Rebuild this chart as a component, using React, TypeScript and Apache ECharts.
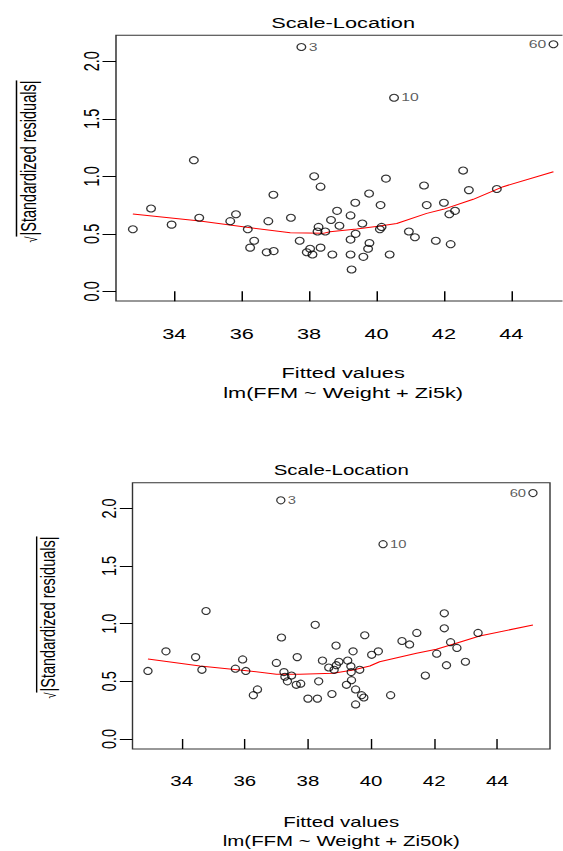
import React, { useEffect, useRef } from "react";
import * as echarts from "echarts";

const FONT = "'Liberation Sans', Arial, Helvetica, sans-serif";

// ---- shared axis ticks ----
const xTickValues = [34, 36, 38, 40, 42, 44];
const yTickValues = [0, 0.5, 1.0, 1.5, 2.0];

// ---- Panel 1: lm(FFM ~ Weight + Zi5k) ----
const fitted5k = [
  32.77, 33.31, 33.92, 34.58, 34.74, 35.66, 35.83, 36.18, 36.37, 36.25,
  36.94, 36.79, 36.74, 36.95, 37.46, 37.72, 38.15, 38.34, 38.28, 38.25,
  38.48, 38.03, 37.93, 38.1, 38.34, 38.69, 38.65, 38.83, 38.9, 39.23,
  39.23, 39.23, 39.26, 39.37, 39.38, 39.58, 39.61, 39.75, 39.79, 39.78,
  40.12, 40.1, 40.15, 40.28, 40.39, 40.96, 41.14, 41.41, 41.49, 41.76,
  42.0, 42.16, 42.33, 42.2, 42.57, 42.74, 43.57,
];
const sqrtRes5k = [
  0.54, 0.72, 0.58, 1.14, 0.64, 0.61, 0.67, 0.54, 0.44, 0.38,
  0.84, 0.61, 0.34, 0.35, 0.64, 0.44, 1.0, 0.91, 0.56, 0.52,
  0.52, 0.37, 0.34, 0.32, 0.38, 0.32, 0.62, 0.7, 0.57, 0.66,
  0.45, 0.32, 0.19, 0.77, 0.5, 0.59, 0.3, 0.37, 0.42, 0.85,
  0.75, 0.54, 0.56, 0.98, 0.32, 0.52, 0.47, 0.92, 0.75, 0.44,
  0.77, 0.67, 0.7, 0.41, 1.05, 0.88, 0.89,
];
const outlierIds5k = ["3", "10", "60"];
const outlierFitted5k = [37.77, 40.52, 45.25];
const outlierRes5k = [2.124, 1.683, 2.148];
const loessX5k = [32.77, 34.76, 36.15, 37.44, 38.42, 38.62, 39.41, 40.1, 40.6, 41.49, 41.98, 42.87, 43.76, 45.25];
const loessY5k = [0.672, 0.611, 0.557, 0.51, 0.504, 0.518, 0.542, 0.568, 0.59, 0.678, 0.713, 0.8, 0.91, 1.04];

// ---- Panel 2: lm(FFM ~ Weight + Zi50k) ----
const fitted50k = [
  32.93, 33.5, 34.44, 34.64, 34.77, 35.7, 35.93, 36.03, 36.27, 36.4,
  37.0, 37.16, 37.24, 37.27, 37.35, 37.48, 37.66, 37.63, 37.77, 38.0,
  38.23, 38.3, 38.34, 38.46, 38.66, 38.76, 38.83, 38.9, 38.98, 38.89,
  39.22, 39.26, 39.36, 39.37, 39.38, 39.43, 39.51, 39.51, 39.64, 39.7,
  39.77, 39.8, 40.02, 40.23, 40.62, 40.98, 41.22, 41.45, 41.72, 42.08,
  42.32, 42.32, 42.39, 42.52, 42.72, 42.99, 43.39,
];
const sqrtRes50k = [
  0.59, 0.76, 0.71, 0.6, 1.11, 0.61, 0.69, 0.59, 0.38, 0.43,
  0.66, 0.88, 0.58, 0.54, 0.5, 0.55, 0.71, 0.47, 0.48, 0.35,
  0.99, 0.35, 0.5, 0.68, 0.62, 0.39, 0.6, 0.64, 0.67, 0.81,
  0.47, 0.68, 0.63, 0.58, 0.51, 0.76, 0.43, 0.3, 0.6, 0.38,
  0.36, 0.9, 0.73, 0.76, 0.38, 0.85, 0.82, 0.92, 0.55, 0.74,
  1.09, 0.96, 0.64, 0.84, 0.79, 0.67, 0.92,
];
const outlierIds50k = ["3", "10", "60"];
const outlierFitted50k = [37.14, 40.38, 45.13];
const outlierRes50k = [2.07, 1.69, 2.133];
const loessX50k = [32.93, 34.58, 36.06, 37.0, 37.74, 38.8, 39.43, 39.96, 40.27, 41.44, 42.07, 42.7, 43.44, 45.13];
const loessY50k = [0.694, 0.633, 0.592, 0.561, 0.561, 0.57, 0.598, 0.633, 0.67, 0.743, 0.778, 0.83, 0.893, 0.989];

const titleText = "Scale-Location";
const xLabelText = "Fitted values";
const subCaption5k = "lm(FFM ~ Weight + Zi5k)";
const subCaption50k = "lm(FFM ~ Weight + Zi50k)";
const yLabelText = "|Standardized residuals|";

type PanelCfg = {
  fitted: number[];
  res: number[];
  ids: string[];
  oFit: number[];
  oRes: number[];
  lx: number[];
  ly: number[];
  sub: string;
  xMin: number;
  xMax: number;
  yMin: number;
  yMax: number;
  gridLeft: number;
  gridTop: number;
  gridWidth: number;
  gridHeight: number;
  titleY: number;
  xLabY: number;
  subY: number;
  yTitleX: number;
  yTitleY: number;
  fs: number;
};

function buildOption(p: PanelCfg) {
  const cx = p.gridLeft + p.gridWidth / 2;
  const maxFit = Math.max(...p.oFit);
  const half = (p.fs * 10.7) / 2;
  return {
    animation: false,
    textStyle: { fontFamily: FONT },
    grid: {
      left: p.gridLeft,
      top: p.gridTop,
      width: p.gridWidth,
      height: p.gridHeight,
      show: true,
      borderColor: "#333",
      borderWidth: 1,
      backgroundColor: "rgba(0,0,0,0)",
      containLabel: false,
      outerBoundsMode: "none",
    },
    xAxis: {
      type: "value",
      min: p.xMin,
      max: p.xMax,
      axisLine: { show: false },
      splitLine: { show: false },
      axisTick: {
        show: true,
        length: 10,
        lineStyle: { color: "#000", width: 1 },
        customValues: xTickValues,
      },
      axisLabel: {
        show: true,
        customValues: xTickValues,
        fontSize: p.fs,
        color: "#000",
        margin: 25,
        fontFamily: FONT,
      },
    },
    yAxis: {
      type: "value",
      min: p.yMin,
      max: p.yMax,
      axisLine: { show: false },
      splitLine: { show: false },
      axisTick: {
        show: true,
        length: 9,
        lineStyle: { color: "#000", width: 1 },
        customValues: yTickValues,
      },
      axisLabel: {
        show: true,
        customValues: yTickValues,
        rotate: 90,
        fontSize: p.fs,
        color: "#000",
        margin: 9,
        fontFamily: FONT,
        formatter: (v: number) => v.toFixed(1),
      },
    },
    series: [
      {
        type: "scatter",
        data: p.fitted.map((x, i) => [x, p.res[i]]),
        symbol: "circle",
        symbolSize: [5.8, 7],
        itemStyle: { color: "rgba(0,0,0,0)", borderColor: "#000", borderWidth: 1 },
        silent: true,
        z: 3,
      },
      {
        type: "scatter",
        data: p.oFit.map((x, i) => ({
          value: [x, p.oRes[i]],
          label: {
            show: true,
            formatter: p.ids[i],
            position: x === maxFit ? "left" : "right",
            distance: 1.5,
            fontSize: 10.5,
            color: "#333",
            fontFamily: FONT,
          },
        })),
        symbol: "circle",
        symbolSize: [5.8, 7],
        itemStyle: { color: "rgba(0,0,0,0)", borderColor: "#000", borderWidth: 1 },
        silent: true,
        z: 3,
      },
      {
        type: "line",
        data: p.lx.map((x, i) => [x, p.ly[i]]),
        showSymbol: false,
        symbol: "none",
        smooth: false,
        lineStyle: { color: "#ff0000", width: 1 },
        silent: true,
        z: 2,
      },
    ],
    graphic: [
      {
        type: "text",
        x: cx,
        y: p.titleY,
        style: {
          text: titleText,
          fontSize: p.fs,
          fontFamily: FONT,
          fill: "#000",
          align: "center",
          verticalAlign: "middle",
          textAlign: "center",
          textVerticalAlign: "middle",
        },
      },
      {
        type: "text",
        x: cx,
        y: p.xLabY,
        style: {
          text: xLabelText,
          fontSize: p.fs,
          fontFamily: FONT,
          fill: "#000",
          align: "center",
          verticalAlign: "middle",
          textAlign: "center",
          textVerticalAlign: "middle",
        },
      },
      {
        type: "text",
        x: cx,
        y: p.subY,
        style: {
          text: p.sub,
          fontSize: p.fs,
          fontFamily: FONT,
          fill: "#000",
          align: "center",
          verticalAlign: "middle",
          textAlign: "center",
          textVerticalAlign: "middle",
        },
      },
      {
        type: "group",
        x: p.yTitleX,
        y: p.yTitleY,
        rotation: Math.PI / 2,
        children: [
          {
            type: "text",
            x: 0,
            y: 0,
            style: {
              text: yLabelText,
              fontSize: p.fs,
              fontFamily: FONT,
              fill: "#000",
              align: "center",
              verticalAlign: "middle",
              textAlign: "center",
              textVerticalAlign: "middle",
            },
          },
          {
            type: "text",
            x: -half - 1,
            y: 2,
            style: {
              text: "√",
              fontSize: p.fs * 0.75,
              fontFamily: FONT,
              fill: "#000",
              align: "right",
              verticalAlign: "middle",
              textAlign: "right",
              textVerticalAlign: "middle",
            },
          },
          {
            type: "line",
            shape: { x1: -half - 1, y1: -8, x2: half, y2: -8 },
            style: { stroke: "#000", lineWidth: 1 },
          },
        ],
      },
    ],
  };
}

const S_TOP = 1.5;
const S_BOT = 1.41;
const TOP_W = 563 / S_TOP;
const BOT_W = 563 / S_BOT;
const TOP_H = 425;
const BOT_H = 426;

const topCfg: PanelCfg = {
  fitted: fitted5k,
  res: sqrtRes5k,
  ids: outlierIds5k,
  oFit: outlierFitted5k,
  oRes: outlierRes5k,
  lx: loessX5k,
  ly: loessY5k,
  sub: subCaption5k,
  xMin: 32.27,
  xMax: 45.75,
  yMin: -0.084,
  yMax: 2.226,
  gridLeft: 116 / S_TOP,
  gridTop: 35.3,
  gridWidth: (570.3 - 116) / S_TOP,
  gridHeight: 265.7,
  titleY: 23,
  xLabY: 373,
  subY: 393,
  yTitleX: 19,
  yTitleY: 158,
  fs: 14.5,
};

const botCfg: PanelCfg = {
  fitted: fitted50k,
  res: sqrtRes50k,
  ids: outlierIds50k,
  oFit: outlierFitted50k,
  oRes: outlierRes50k,
  lx: loessX50k,
  ly: loessY50k,
  sub: subCaption50k,
  xMin: 32.44,
  xMax: 45.67,
  yMin: -0.087,
  yMax: 2.223,
  gridLeft: 132.5 / S_BOT,
  gridTop: 482.7 - TOP_H,
  gridWidth: (550 - 132.5) / S_BOT,
  gridHeight: 266.3,
  titleY: 470 - TOP_H,
  xLabY: 822 - TOP_H,
  subY: 841 - TOP_H,
  yTitleX: 34,
  yTitleY: 614 - TOP_H,
  fs: 14.5,
};

function Panel(props: { cfg: PanelCfg; top: number; width: number; height: number; scaleX: number }) {
  const ref = useRef<HTMLDivElement | null>(null);
  useEffect(() => {
    if (!ref.current) return;
    const chart = echarts.init(ref.current, null, {
      renderer: "svg",
      width: props.width,
      height: props.height,
    });
    chart.setOption(buildOption(props.cfg) as any);
    return () => {
      chart.dispose();
    };
  }, []);
  return (
    <div
      ref={ref}
      style={{
        position: "absolute",
        left: 0,
        top: props.top,
        width: props.width,
        height: props.height,
        transform: `scaleX(${props.scaleX})`,
        transformOrigin: "0 0",
      }}
    />
  );
}

export default function App() {
  return (
    <div
      style={{
        position: "fixed",
        left: 0,
        top: 0,
        width: 563,
        height: 851,
        overflow: "hidden",
        background: "#fff",
      }}
    >
      <Panel cfg={topCfg} top={0} width={TOP_W} height={TOP_H} scaleX={S_TOP} />
      <Panel cfg={botCfg} top={TOP_H} width={BOT_W} height={BOT_H} scaleX={S_BOT} />
    </div>
  );
}
